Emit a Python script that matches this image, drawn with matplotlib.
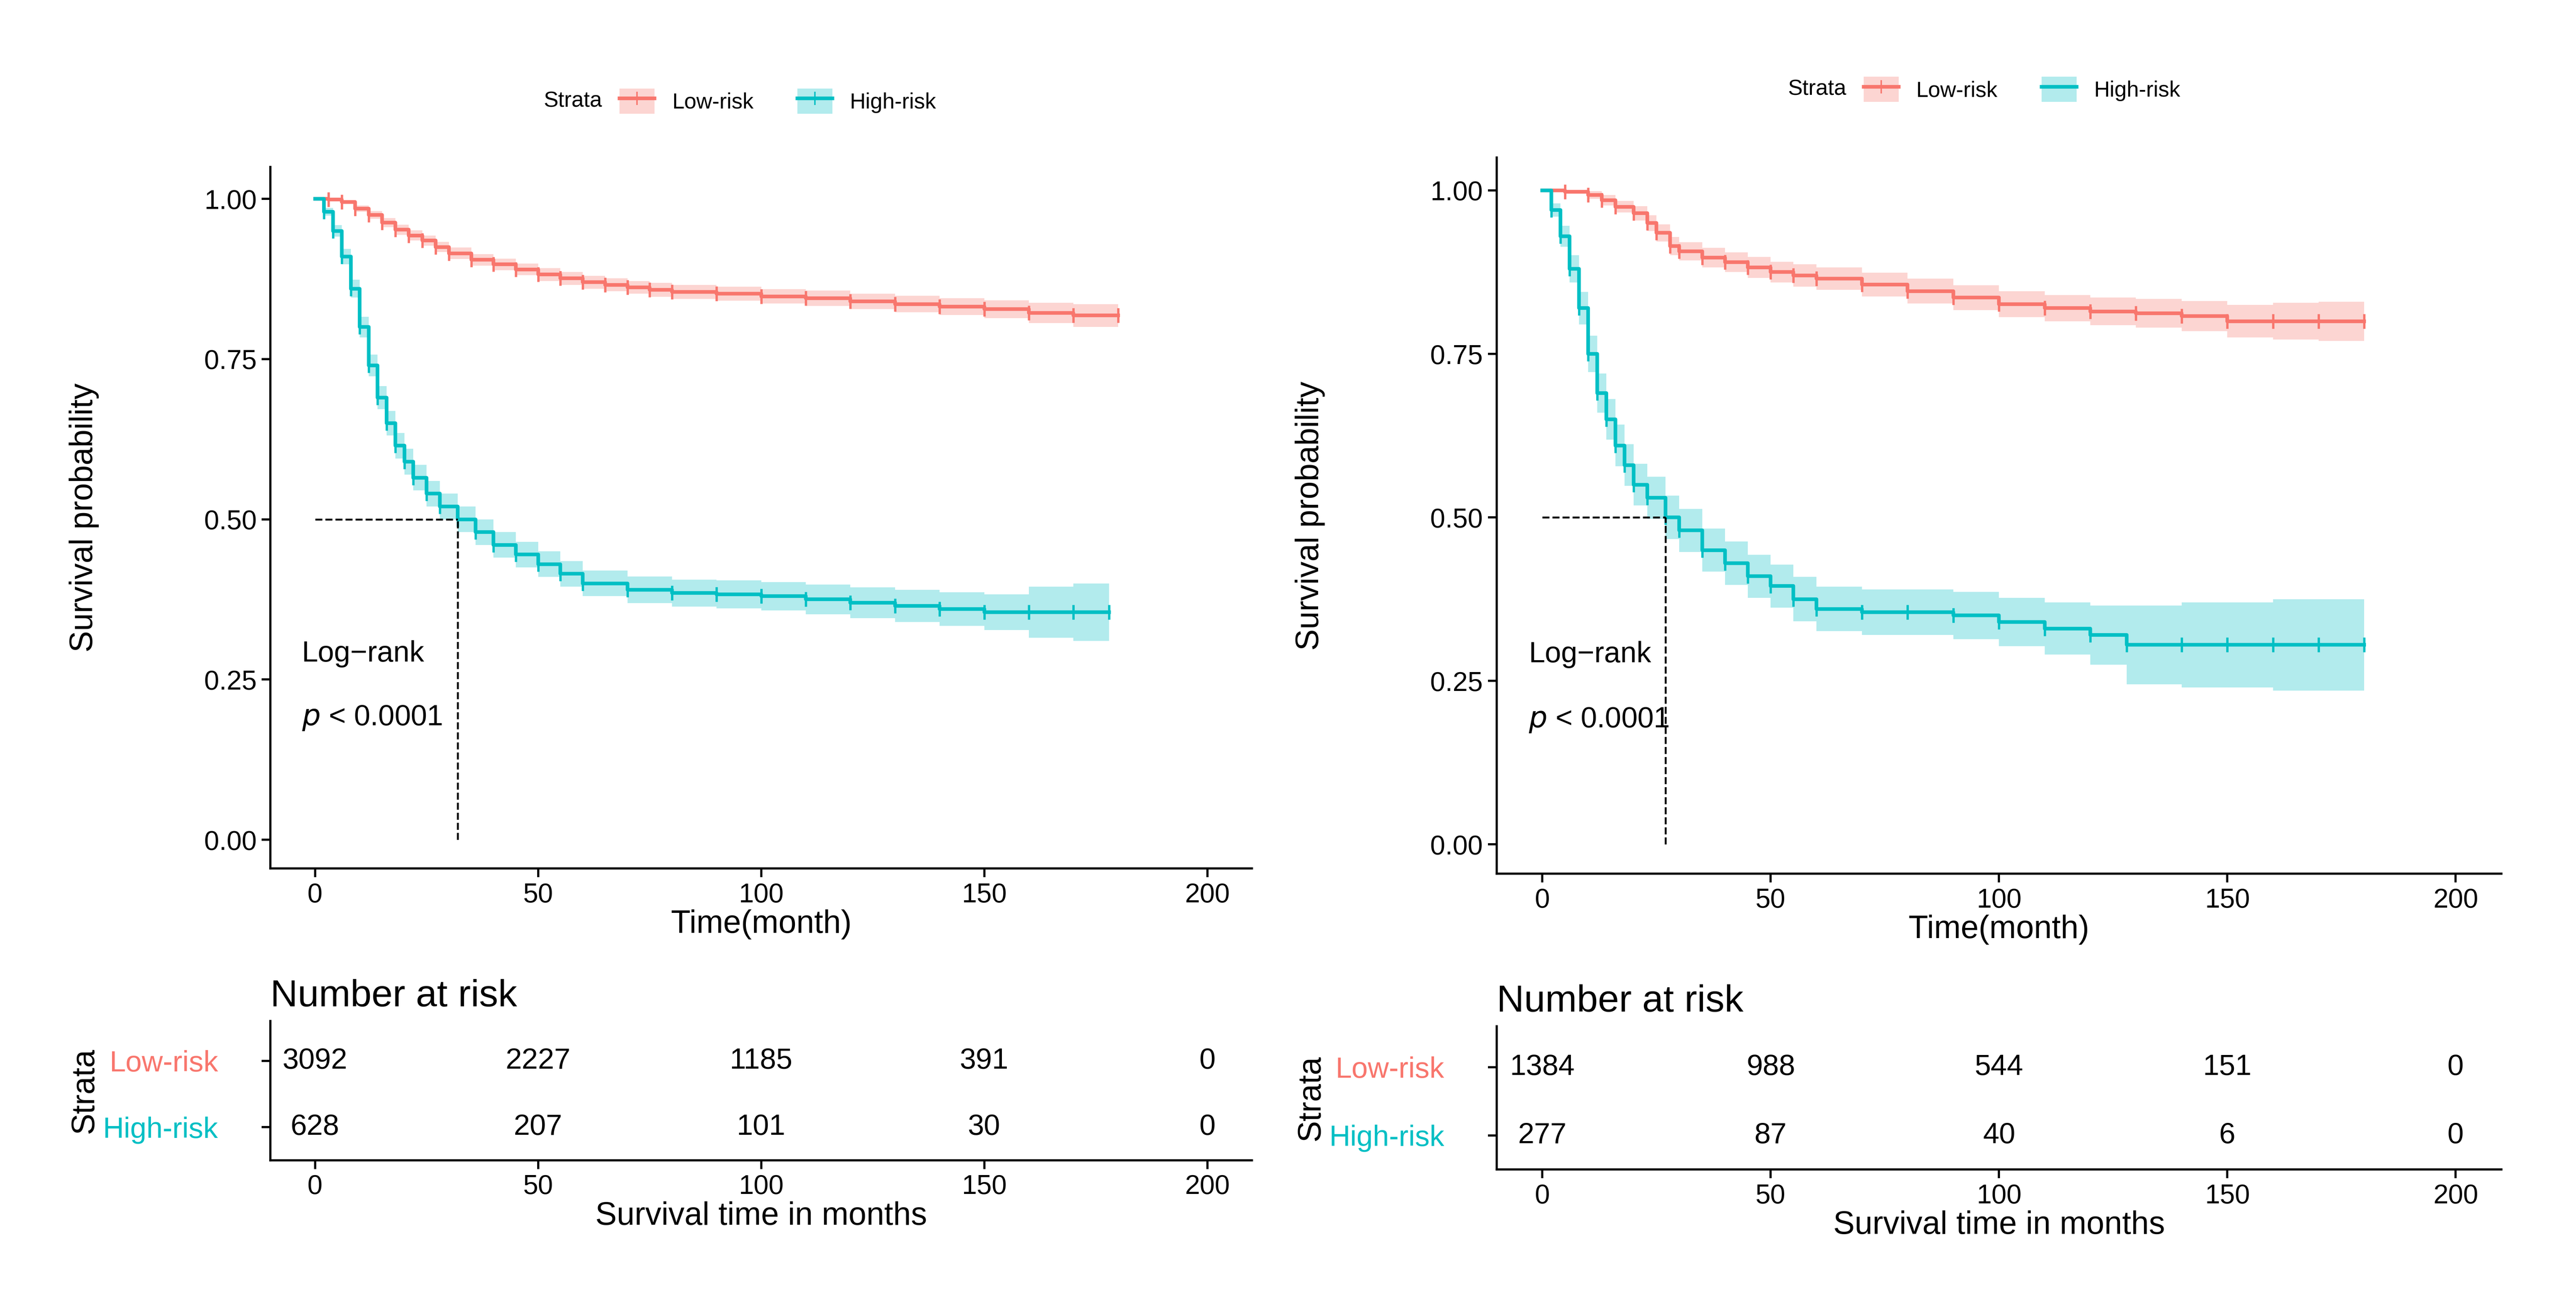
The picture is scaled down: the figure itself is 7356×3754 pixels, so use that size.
import matplotlib
matplotlib.use('Agg')
import matplotlib.pyplot as plt
from matplotlib.patches import Patch
from matplotlib.lines import Line2D

plt.rcParams['font.family'] = ['Liberation Sans', 'DejaVu Sans']

LOW = '#F8766D'
HIGH = '#00BFC4'

# ---- left cohort ----
t_low_a = [0, 3, 6, 9, 12, 15, 18, 21, 24, 27, 30, 35, 40, 45, 50, 55, 60, 65, 70, 75, 80, 90, 100, 110, 120, 130, 140, 150, 160, 170, 180]
s_low_a = [1.0, 0.999, 0.995, 0.985, 0.975, 0.963, 0.952, 0.943, 0.935, 0.925, 0.915, 0.905, 0.898, 0.89, 0.882, 0.876, 0.87, 0.866, 0.862, 0.858, 0.855, 0.852, 0.848, 0.845, 0.84, 0.836, 0.832, 0.828, 0.822, 0.818, 0.818]
ci_low_a = [0.0, 0.001, 0.003, 0.005, 0.006, 0.007, 0.008, 0.008, 0.008, 0.008, 0.009, 0.009, 0.009, 0.009, 0.01, 0.01, 0.01, 0.01, 0.01, 0.011, 0.011, 0.011, 0.011, 0.012, 0.012, 0.013, 0.013, 0.014, 0.016, 0.018, 0.018]
t_high_a = [0, 2, 4, 6, 8, 10, 12, 14, 16, 18, 20, 22, 25, 28, 32, 36, 40, 45, 50, 55, 60, 70, 80, 90, 100, 110, 120, 130, 140, 150, 160, 170, 178]
s_high_a = [1.0, 0.98, 0.95, 0.91, 0.86, 0.8, 0.74, 0.69, 0.65, 0.615, 0.59, 0.565, 0.54, 0.52, 0.5, 0.48, 0.46, 0.445, 0.43, 0.415, 0.4, 0.39, 0.385, 0.383, 0.38, 0.375, 0.37, 0.365, 0.36, 0.355, 0.355, 0.355, 0.355]
ci_high_a = [0.0, 0.006, 0.009, 0.012, 0.014, 0.016, 0.017, 0.018, 0.019, 0.02, 0.02, 0.02, 0.02, 0.02, 0.02, 0.02, 0.02, 0.02, 0.02, 0.02, 0.02, 0.021, 0.021, 0.022, 0.022, 0.023, 0.024, 0.025, 0.026, 0.028, 0.04, 0.045, 0.045]
med_a = 32
risk_low_a = [3092, 2227, 1185, 391, 0]
risk_high_a = [628, 207, 101, 30, 0]

# ---- right cohort ----
t_low_b = [0, 5, 10, 13, 16, 20, 23, 25, 28, 30, 35, 40, 45, 50, 55, 60, 70, 80, 90, 100, 110, 120, 130, 140, 150, 160, 170, 180]
s_low_b = [1.0, 0.998, 0.993, 0.985, 0.975, 0.965, 0.95, 0.935, 0.915, 0.907, 0.897, 0.89, 0.882, 0.875, 0.87, 0.865, 0.856, 0.846, 0.836, 0.826, 0.82, 0.815, 0.812, 0.808, 0.8, 0.8, 0.8, 0.8]
ci_low_b = [0.0, 0.003, 0.006, 0.008, 0.009, 0.011, 0.012, 0.013, 0.014, 0.014, 0.015, 0.015, 0.016, 0.016, 0.017, 0.017, 0.018, 0.019, 0.019, 0.02, 0.02, 0.021, 0.022, 0.023, 0.025, 0.028, 0.03, 0.03]
t_high_b = [0, 2, 4, 6, 8, 10, 12, 14, 16, 18, 20, 23, 27, 30, 35, 40, 45, 50, 55, 60, 70, 80, 90, 100, 110, 120, 128, 140, 150, 160, 170, 180]
s_high_b = [1.0, 0.97, 0.93, 0.88, 0.82, 0.75, 0.69, 0.65, 0.61, 0.58, 0.55, 0.53, 0.5, 0.48, 0.45, 0.43, 0.41, 0.395, 0.375, 0.36, 0.355, 0.355, 0.35, 0.34, 0.33, 0.32, 0.305, 0.305, 0.305, 0.305, 0.305, 0.305]
ci_high_b = [0.0, 0.01, 0.016, 0.021, 0.025, 0.028, 0.03, 0.031, 0.032, 0.032, 0.032, 0.032, 0.033, 0.033, 0.033, 0.033, 0.033, 0.033, 0.034, 0.034, 0.035, 0.035, 0.036, 0.037, 0.04, 0.045, 0.06, 0.065, 0.065, 0.07, 0.07, 0.07]
med_b = 27
risk_low_b = [1384, 988, 544, 151, 0]
risk_high_b = [277, 87, 40, 6, 0]

risk_times = [0, 50, 100, 150, 200]
groups = ['Low-risk', 'High-risk']

fig = plt.figure(figsize=(7356 / 300, 3754 / 300), dpi=300)
TICK = 18.5
LAB = 22


def style(ax):
    for s in ['top', 'right']:
        ax.spines[s].set_visible(False)
    ax.spines['left'].set_linewidth(1.5)
    ax.spines['bottom'].set_linewidth(1.5)
    ax.tick_params(labelsize=TICK, width=1.5, length=6)


def km_panel(rect, trect, tl, sl, cl, th, sh, ch, med, rl, rh, markers_high=True):
    ax = fig.add_axes(rect)
    for t, s, c, col in [(tl, sl, cl, LOW), (th, sh, ch, HIGH)]:
        lo = [a - b for a, b in zip(s, c)]
        hi = [a + b for a, b in zip(s, c)]
        ax.fill_between(t, lo, hi, step='post', color=col, alpha=0.3, lw=0)
        ax.step(t, s, where='post', color=col, lw=2.5)
        ax.plot(t[1:], s[1:], ls='none', marker='|', ms=10, mew=1.6, color=col)
    ax.plot([0, med], [0.5, 0.5], 'k--', lw=1.3)
    ax.plot([med, med], [0, 0.5], 'k--', lw=1.3)
    ax.text(-3, 0.29, 'Log\u2212rank', fontsize=20, va='center')
    ax.text(-3, 0.19, '$p$ < 0.0001', fontsize=20, va='center')
    ax.set_xlim(-10, 210)
    ax.set_ylim(-0.045, 1.05)
    ax.set_xticks([0, 50, 100, 150, 200])
    ax.set_yticks([0, 0.25, 0.5, 0.75, 1.0])
    ax.set_yticklabels(['0.00', '0.25', '0.50', '0.75', '1.00'])
    ax.set_xlabel('Time(month)', fontsize=LAB, labelpad=1)
    ax.set_ylabel('Survival probability', fontsize=LAB, labelpad=72)
    style(ax)

    tb = fig.add_axes(trect)
    for x, a, b in zip(risk_times, rl, rh):
        tb.text(x, 1, str(a), ha='center', va='center', fontsize=20)
        tb.text(x, 0, str(b), ha='center', va='center', fontsize=20)
    tb.set_xlim(-10, 210)
    tb.set_ylim(-0.5, 1.6)
    tb.set_xticks(risk_times)
    tb.set_yticks([1, 0])
    tb.set_yticklabels(groups)
    style(tb)
    tb.tick_params(axis='y', labelsize=20, pad=30)
    for lab, col in zip(tb.get_yticklabels(), [LOW, HIGH]):
        lab.set_color(col)
    tb.set_xlabel('Survival time in months', fontsize=LAB, labelpad=1)
    tb.set_ylabel('Strata', fontsize=LAB, labelpad=2)
    tb.set_title('Number at risk', fontsize=26, loc='left', x=0.0, pad=10)

    hl = [(Patch(color=LOW, alpha=0.3, lw=0), Line2D([], [], color=LOW, lw=2.5, marker='|', ms=9)),
          (Patch(color=HIGH, alpha=0.3, lw=0), Line2D([], [], color=HIGH, lw=2.5, marker='|' if markers_high else None, ms=9))]
    return ax, hl


ax1, h1 = km_panel([0.105, 0.339, 0.381, 0.534], [0.105, 0.117, 0.381, 0.106],
                   t_low_a, s_low_a, ci_low_a, t_high_a, s_high_a, ci_high_a, med_a, risk_low_a, risk_high_a)
ax2, h2 = km_panel([0.581, 0.335, 0.39, 0.545], [0.581, 0.11, 0.39, 0.109],
                   t_low_b, s_low_b, ci_low_b, t_high_b, s_high_b, ci_high_b, med_b, risk_low_b, risk_high_b, markers_high=False)

fig.text(0.211, 0.923, 'Strata', fontsize=15, va='center')
fig.legend(h1, groups, loc='center', bbox_to_anchor=(0.302, 0.923), ncol=2, frameon=False,
           fontsize=15, handlelength=1.6, handleheight=1.4, columnspacing=2.0)
fig.text(0.694, 0.932, 'Strata', fontsize=15, va='center')
fig.legend(h2, groups, loc='center', bbox_to_anchor=(0.785, 0.932), ncol=2, frameon=False,
           fontsize=15, handlelength=1.6, handleheight=1.4, columnspacing=2.0)

fig.savefig('out.png', dpi=300)
